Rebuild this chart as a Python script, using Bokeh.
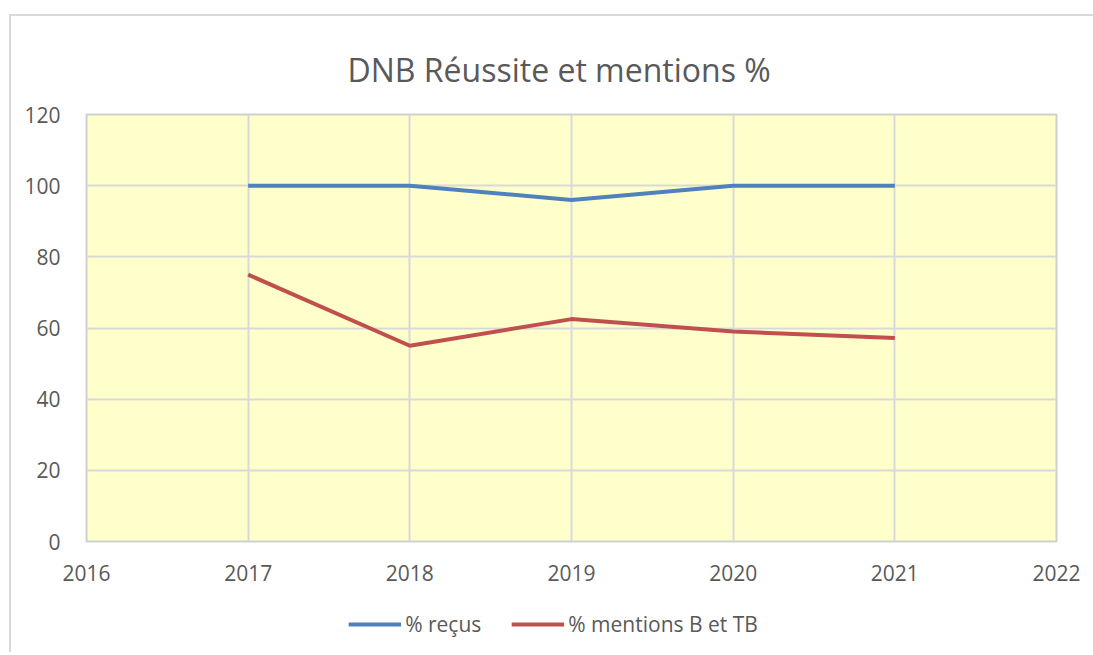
from bokeh.plotting import figure
from bokeh.layouts import column
from bokeh.models import Legend, LegendItem, FixedTicker, Range1d
from bokeh.embed import file_html
from bokeh.resources import INLINE

years = [2017, 2018, 2019, 2020, 2021]
recus = [100, 100, 96, 100, 100]
mentions = [75, 55, 62.5, 59, 57.2]
x_ticks = [2016, 2017, 2018, 2019, 2020, 2021, 2022]
y_ticks = [0, 20, 40, 60, 80, 100, 120]
series_names = ["% reçus", "% mentions B et TB"]
series_colors = ["#4F81BD", "#C0504D"]

FONT = "Open Sans"
TXT = "#595959"
BORDER = "2px solid #D9D9D9"

p = figure(frame_width=968, frame_height=425, output_backend="svg", toolbar_location=None,
           x_range=Range1d(2016, 2022), y_range=Range1d(0, 120),
           title="DNB Réussite et mentions %")
p.styles = {"margin-left": "9px", "margin-top": "14px",
            "border-left": BORDER, "border-top": BORDER}
p.min_border_left = 75
p.min_border_right = 39
p.min_border_top = 98
p.min_border_bottom = 57

p.title.align = "left"
p.title.offset = 261
p.title.text_font = FONT
p.title.text_font_size = "32px"
p.title.text_font_style = "normal"
p.title.text_color = TXT
p.title.standoff = 48

p.background_fill_color = "#FFFFCC"
p.border_fill_color = "white"
p.outline_line_color = "#D0D0D0"
p.outline_line_width = 2

p.xaxis.ticker = FixedTicker(ticks=x_ticks)
p.yaxis.ticker = FixedTicker(ticks=y_ticks)
for ax in (p.xaxis[0], p.yaxis[0]):
    ax.axis_line_color = None
    ax.major_tick_line_color = None
    ax.minor_tick_line_color = None
    ax.major_label_text_font = FONT
    ax.major_label_text_font_size = "21px"
    ax.major_label_text_color = TXT
p.xaxis.major_label_standoff = 17
p.yaxis.major_label_standoff = 20

p.xgrid.grid_line_color = "#D9D9D9"
p.ygrid.grid_line_color = "#D9D9D9"
p.xgrid.grid_line_width = 2
p.ygrid.grid_line_width = 2

p.line(years, recus, line_color=series_colors[0], line_width=4)
p.line(years, mentions, line_color=series_colors[1], line_width=4)

# legend strip below the chart
p2 = figure(frame_width=1082, frame_height=56, output_backend="svg", toolbar_location=None,
            x_range=Range1d(0, 1), y_range=Range1d(0, 1),
            x_axis_location=None, y_axis_location=None, min_border=0)
p2.styles = {"margin-left": "9px", "border-left": BORDER}
p2.outline_line_color = None
p2.grid.visible = False
p2.background_fill_color = "white"
p2.border_fill_color = "white"

nan = float("nan")
items = []
for name, col in zip(series_names, series_colors):
    r = p2.line([nan], [nan], line_color=col, line_width=4)
    items.append(LegendItem(label=name, renderers=[r]))

legend = Legend(items=items, orientation="horizontal", location="center",
                label_text_font=FONT, label_text_font_size="21px", label_text_color=TXT,
                glyph_width=53, glyph_height=20, label_standoff=4, spacing=30,
                border_line_color=None, background_fill_alpha=0, margin=0, padding=2)
p2.add_layout(legend, "center")

layout = column(p, p2, spacing=0)
open("out.html", "w").write(file_html(layout, INLINE))
